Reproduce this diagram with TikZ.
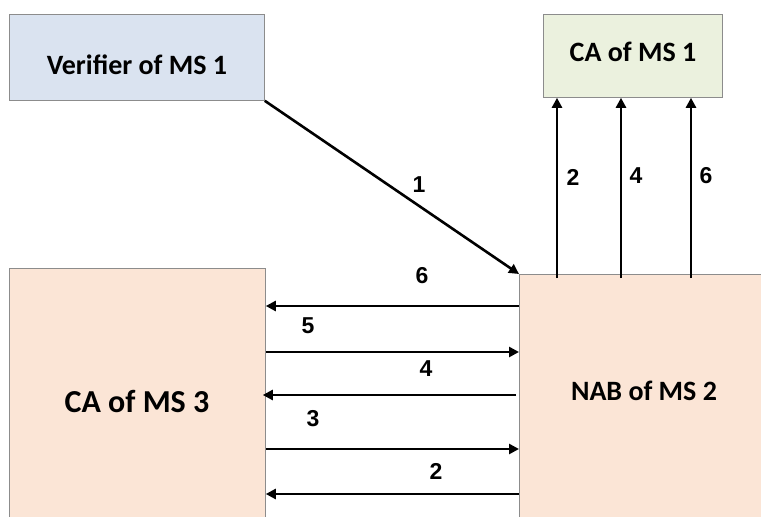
\documentclass[tikz,border=0pt]{standalone}
\usepackage{fontspec}
\setmainfont{Carlito}
\newfontfamily\numfont{Liberation Sans}
\usetikzlibrary{arrows.meta}
\definecolor{verfill}{HTML}{DAE3F0}
\definecolor{cafill}{HTML}{EBF1DE}
\definecolor{msfill}{HTML}{FBE5D6}
\definecolor{boxline}{HTML}{8C8C8C}
\tikzset{
  box/.style={draw=boxline, line width=0.8pt, inner sep=0pt, anchor=north west},
  boxtext/.style={font=\bfseries\fontsize{28}{32}\selectfont},
  arr/.style={line width=2.6pt, -{Triangle[length=10pt,width=10pt]}},
  num/.style={font=\numfont\bfseries\fontsize{23}{26}\selectfont, inner sep=0pt}
}
\begin{document}
\begin{tikzpicture}[x=1pt, y=-1pt]
  \useasboundingbox (0,0) rectangle (761,517);
  \clip (0,0) rectangle (761,517);

  % boxes
  \node[box, fill=verfill, minimum width=255pt, minimum height=86pt] (ver) at (9,14) {};
  \node[boxtext] at (137,65) {Verifier of MS 1};
  \node[box, fill=cafill, minimum width=179pt, minimum height=83pt] (ca1) at (543,14) {};
  \node[boxtext] at (633,52) {CA of MS 1};
  \node[box, fill=msfill, minimum width=256pt, minimum height=260pt] (ca3) at (9,268) {};
  \node[boxtext, font=\bfseries\fontsize{32}{36}\selectfont] at (137,401) {CA of MS 3};
  \node[box, fill=msfill, minimum width=250pt, minimum height=260pt] (nab) at (519,274) {};
  \node[boxtext] at (644,391) {NAB of MS 2};

  % message 1: verifier to NAB
  \draw[arr] (ver.south east) -- (nab.north west);
  \node[num] at (419,185) {1};

  % requests from NAB up to CA of MS 1
  \coordinate (v2) at (557,0);
  \coordinate (v4) at (621,0);
  \coordinate (v6) at (691,0);
  \draw[arr] ([yshift=-4pt]nab.north -| v2) -- (ca1.south -| v2);
  \draw[arr] ([yshift=-4pt]nab.north -| v4) -- (ca1.south -| v4);
  \draw[arr] ([yshift=-4pt]nab.north -| v6) -- (ca1.south -| v6);
  \node[num] at (573,177) {2};
  \node[num] at (636,176) {4};
  \node[num] at (706,176) {6};

  % exchanges between NAB of MS 2 and CA of MS 3
  \coordinate (h6) at (0,306);
  \coordinate (h5) at (0,352);
  \coordinate (h4) at (0,395);
  \coordinate (h3) at (0,449);
  \coordinate (h2) at (0,494);
  \draw[arr] (nab.west |- h6) -- (ca3.east |- h6);
  \draw[arr] (ca3.east |- h5) -- (nab.west |- h5);
  \draw[arr] ([xshift=-3pt]nab.west |- h4) -- ([xshift=-3pt]ca3.east |- h4);
  \draw[arr] (ca3.east |- h3) -- (nab.west |- h3);
  \draw[arr] (nab.west |- h2) -- (ca3.east |- h2);
  \node[num] at (422,276) {6};
  \node[num] at (308,326) {5};
  \node[num] at (426,369) {4};
  \node[num] at (313,419) {3};
  \node[num] at (436,471) {2};
\end{tikzpicture}
\end{document}
